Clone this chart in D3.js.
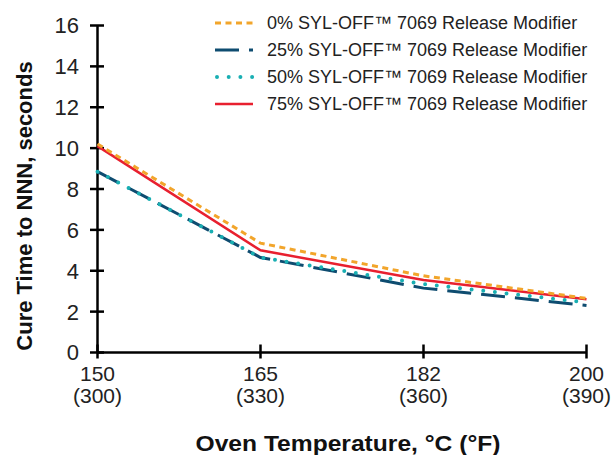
<!DOCTYPE html>
<html><head><meta charset="utf-8">
<script src="https://cdn.jsdelivr.net/npm/d3@7"></script>
<style>body{margin:0;background:#fff}svg{display:block;font-family:"Liberation Sans",Arial,Helvetica,sans-serif}</style>
</head><body>
<svg id="c" width="613" height="455"></svg>
<script>
const categoriesC = ["150","165","182","200"];
const categoriesF = ["(300)","(330)","(360)","(390)"];
const seriesNames = ["0% SYL-OFF™ 7069 Release Modifier","25% SYL-OFF™ 7069 Release Modifier","50% SYL-OFF™ 7069 Release Modifier","75% SYL-OFF™ 7069 Release Modifier"];
const values0 = [10.2, 5.35, 3.75, 2.65];
const values25 = [8.85, 4.65, 3.15, 2.3];
const values50 = [8.85, 4.65, 3.35, 2.45];
const values75 = [10.1, 5.0, 3.55, 2.6];
const yTicks = [0,2,4,6,8,10,12,14,16];

const styles = [
  {color:"#F2A52B", width:3, dash:"6,4.5", cap:"butt"},
  {color:"#0E4C70", width:3, dash:"24,10", cap:"butt"},
  {color:"#19AFB3", width:4, dash:"0,11.7", cap:"round"},
  {color:"#E8202F", width:2.5, dash:null, cap:"butt"}
];
const allValues = [values0, values25, values50, values75];

const svg = d3.select("#c");
const x = d3.scalePoint().domain(categoriesC).range([97.5, 586.5]);
const y = d3.scaleLinear().domain([0,16]).range([352.5, 25.5]);

// y axis
const yAxis = svg.append("g");
yAxis.append("line").attr("x1",97.5).attr("x2",97.5).attr("y1",y(16)).attr("y2",y(0)).attr("stroke","#000").attr("stroke-width",2.5);
yTicks.forEach(t=>{
  yAxis.append("line").attr("x1",90).attr("x2",104).attr("y1",y(t)).attr("y2",y(t)).attr("stroke","#000").attr("stroke-width",2.5);
  yAxis.append("text").attr("x",79).attr("y",y(t)).attr("dy","0.36em").attr("text-anchor","end")
    .attr("font-size",22).attr("fill","#222").text(t);
});
// x axis
const xAxis = svg.append("g");
xAxis.append("line").attr("x1",97.5).attr("x2",586.5).attr("y1",y(0)).attr("y2",y(0)).attr("stroke","#000").attr("stroke-width",2.5);
categoriesC.forEach((c,i)=>{
  xAxis.append("line").attr("x1",x(c)).attr("x2",x(c)).attr("y1",y(0)-8).attr("y2",y(0)+6).attr("stroke","#000").attr("stroke-width",2.5);
  xAxis.append("text").attr("x",x(c)).attr("y",381).attr("text-anchor","middle").attr("font-size",21).attr("fill","#222").text(c);
  xAxis.append("text").attr("x",x(c)).attr("y",403).attr("text-anchor","middle").attr("font-size",21).attr("fill","#222").text(categoriesF[i]);
});

// titles
svg.append("text").attr("x",348).attr("y",451).attr("text-anchor","middle").attr("font-size",22).attr("font-weight","bold").attr("fill","#111")
  .attr("textLength",305).attr("lengthAdjust","spacingAndGlyphs")
  .text("Oven Temperature, °C (°F)");
svg.append("text").attr("transform","translate(32,206) rotate(-90)").attr("text-anchor","middle").attr("font-size",22).attr("font-weight","bold").attr("fill","#111")
  .text("Cure Time to NNN, seconds");

// lines
const line = d3.line().x((d,i)=>x(categoriesC[i])).y(d=>y(d));
const order = [3,1,2,0];
order.forEach(k=>{
  const s = styles[k];
  svg.append("path").datum(allValues[k]).attr("d",line).attr("fill","none")
    .attr("stroke",s.color).attr("stroke-width",s.width).attr("stroke-linecap",s.cap)
    .attr("stroke-dasharray",s.dash);
});

// legend
const legY = [23,50,77,104];
seriesNames.forEach((n,k)=>{
  const s = styles[k];
  const g = svg.append("g");
  g.append("line").attr("x1", k===2?217:215).attr("x2",253).attr("y1",legY[k]).attr("y2",legY[k])
    .attr("stroke",s.color).attr("stroke-width",s.width).attr("stroke-linecap",s.cap).attr("stroke-dasharray",s.dash);
  g.append("text").attr("x",267).attr("y",legY[k]).attr("dy","0.36em").attr("font-size",18).attr("fill","#222").text(n);
});
</script>
</body></html>
